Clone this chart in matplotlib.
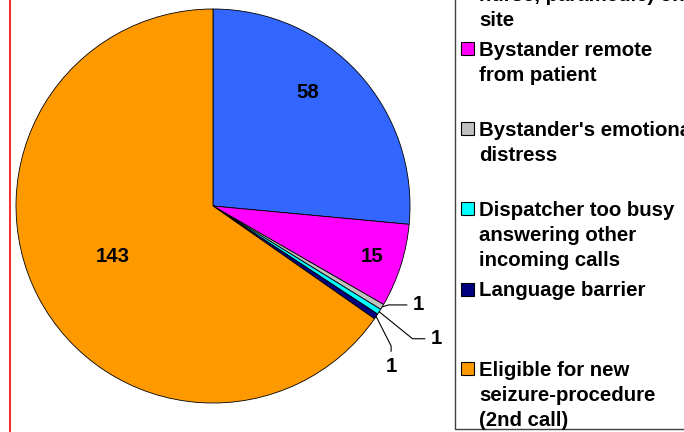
import matplotlib
matplotlib.use("Agg")
import matplotlib.pyplot as plt
import numpy as np

plt.rcParams['font.family'] = ['Liberation Sans', 'DejaVu Sans']

categories = [
    "Health professional (doctor,\nnurse, paramedic) on\nsite",
    "Bystander remote\nfrom patient",
    "Bystander's emotional\ndistress",
    "Dispatcher too busy\nanswering other\nincoming calls",
    "Language barrier",
    "Eligible for new\nseizure-procedure\n(2nd call)",
]
values = [58, 15, 1, 1, 1, 143]
colors = ["#3366FF", "#FF00FF", "#C0C0C0", "#00FFFF", "#000080", "#FF9900"]

W, H = 684, 432
FS = 14.7
fig = plt.figure(figsize=(W / 100, H / 100), dpi=100)


def fx(x):
    return x / W


def fy(y):
    return 1 - y / H


# pie axes: centre (213, 206), radius 197 px
cx, cy, r = 213, 206, 197
ax = fig.add_axes([fx(cx - r), fy(cy + r), 2 * r / W, 2 * r / H])
wedges, _ = ax.pie(values, colors=colors, startangle=90, counterclock=False,
                   radius=1, wedgeprops=dict(edgecolor='black', linewidth=0.6))
ax.set_xlim(-1, 1)
ax.set_ylim(-1, 1)
ax.set_aspect('equal')
ax.axis('off')

# inside labels for the big slices
label_dist = [0.75, 0.85, None, None, None, 0.57]
label_shift = [8, 0, 0, 0, 0, -1]
for w, v, d, s in zip(wedges, values, label_dist, label_shift):
    if d is None:
        continue
    mid = np.deg2rad((w.theta1 + w.theta2) / 2 + s)
    ax.text(d * np.cos(mid), d * np.sin(mid), str(v), ha='center', va='center',
            fontsize=FS, fontweight='bold')

# outside labels with leader lines for the tiny slices
offsets = [(36, 2), (57, -27), (15, -50)]
styles = ["angle,angleA=0,angleB=18,rad=0",
          "angle,angleA=0,angleB=-39,rad=0",
          "angle,angleA=90,angleB=-63,rad=0"]
for w, v, off, cs in zip(wedges[2:5], values[2:5], offsets, styles):
    mid = np.deg2rad((w.theta1 + w.theta2) / 2)
    ax.annotate(str(v), xy=(np.cos(mid), np.sin(mid)), xytext=off,
                textcoords='offset pixels', ha='center', va='center',
                fontsize=FS, fontweight='bold', annotation_clip=False,
                arrowprops=dict(arrowstyle='-', color='black', lw=0.8,
                                connectionstyle=cs, shrinkA=2, shrinkB=0))

# legend drawn by hand (Excel-style uneven spacing, top clipped)
leg_y = [-32, 48, 128, 208, 289, 368]   # centre of first line, px from top
for y0, lab, c in zip(leg_y, categories, colors):
    fig.patches.append(plt.Rectangle((fx(461), fy(y0 + 6.5)), 13 / W, 13 / H,
                                     transform=fig.transFigure,
                                     facecolor=c, edgecolor='black', lw=0.8))
    fig.text(fx(479), fy(y0 - 7.5), lab, ha='left', va='top',
             fontsize=FS, fontweight='bold', linespacing=1.415)

# legend frame
fig.lines.append(plt.Line2D([fx(455), fx(455), fx(700)],
                            [fy(-5), fy(429), fy(429)],
                            transform=fig.transFigure, color='#404040', lw=1))

# red border line at the left
fig.lines.append(plt.Line2D([fx(9.5), fx(9.5)], [0, 1],
                            transform=fig.transFigure, color='red', lw=1.2))

fig.savefig("out.png", dpi=100)
